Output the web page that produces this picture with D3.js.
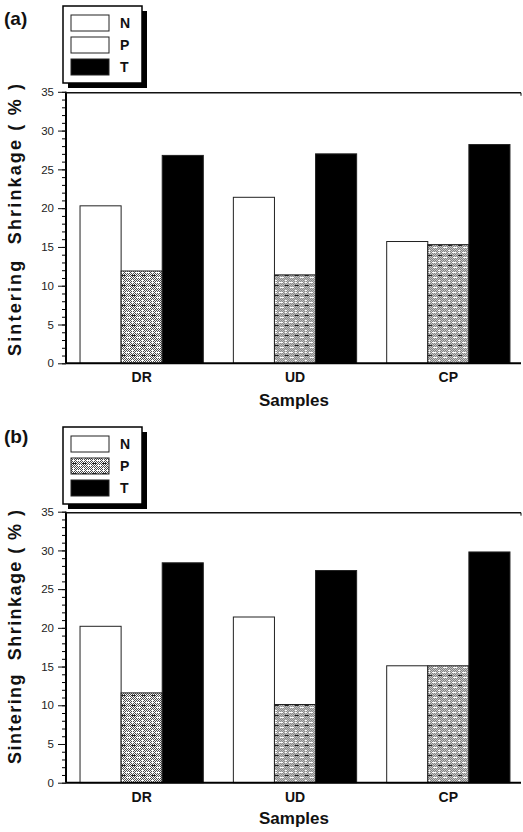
<!DOCTYPE html>
<html>
<head>
<meta charset="utf-8">
<script src="https://cdn.jsdelivr.net/npm/d3@7"></script>
<style>
  body { margin: 0; background: #fff; }
  svg { display: block; font-family: Arial, "Liberation Sans", sans-serif; }
</style>
</head>
<body>
<svg id="chart" width="523" height="832"></svg>
<script>
// data
const categories = ['DR', 'UD', 'CP']
const seriesNames = ['N', 'P', 'T']
const yTicks = [0, 5, 10, 15, 20, 25, 30, 35]

// panel (a)
const aN = [20.3, 21.4, 15.7]
const aP = [11.9, 11.4, 15.3]
const aT = [26.8, 27.0, 28.2]
// panel (b)
const bN = [20.2, 21.4, 15.1]
const bP = [11.6, 10.1, 15.1]
const bT = [28.4, 27.4, 29.8]

const svg = d3.select('#chart')

// speckled grey fill used for P
let defs = svg.append('defs')
let pat = defs.append('pattern')
  .attr('id', 'speckle')
  .attr('patternUnits', 'userSpaceOnUse')
  .attr('width', 10).attr('height', 10)
pat.append('rect').attr('width', 10).attr('height', 10).attr('fill', '#fff')
for (let i = 0; i < 10; i++) {
  for (let j = 0; j < 10; j++) {
    if ((i + j) % 2 === 0 && !(i === 2 && j < 4) && !(j === 7 && i > 5)) {
      pat.append('rect').attr('x', i).attr('y', j).attr('width', 1).attr('height', 1).attr('fill', '#4a4a4a')
    }
  }
}
pat.append('rect').attr('x', 1).attr('y', 5).attr('width', 4).attr('height', 1).attr('fill', '#222')
pat.append('rect').attr('x', 6).attr('y', 2).attr('width', 3).attr('height', 1).attr('fill', '#fff')

const fills = { N: '#fff', P: 'url(#speckle)', T: '#000' }

function drawPanel(opt) {
  let g = svg.append('g')
  let rows = categories.map((c, i) => ({ cat: c, N: opt.N[i], P: opt.P[i], T: opt.T[i] }))

  let x = d3.scaleBand().domain(categories).range([66, 524]).paddingInner(0.196).paddingOuter(0.0915)
  let xs = d3.scaleBand().domain(seriesNames).range([0, x.bandwidth()])
  let y = d3.scaleLinear().domain([0, 35]).range([opt.y0, opt.y35])

  // bars
  g.selectAll('g.grp')
    .data(rows)
    .enter()
    .append('g')
    .attr('transform', d => `translate(${x(d.cat)},0)`)
    .selectAll('rect')
    .data(d => seriesNames.map(s => ({ s: s, v: d[s] })))
    .enter()
    .append('rect')
    .attr('x', d => xs(d.s))
    .attr('y', d => y(d.v))
    .attr('width', xs.bandwidth())
    .attr('height', d => y(0) - y(d.v))
    .attr('fill', d => fills[d.s])
    .attr('stroke', '#222')
    .attr('stroke-width', 1)

  // minor ticks every 1 unit
  let yMinor = d3.axisLeft(y).tickValues(d3.range(0, 36, 1)).tickSize(4).tickFormat('')
  g.append('g').attr('transform', 'translate(66,0)').call(yMinor)
    .call(s => s.select('.domain').remove())
  let yAxis = d3.axisLeft(y).tickValues(yTicks).tickSize(8).tickPadding(4)
  let ya = g.append('g').attr('transform', 'translate(66,0)').call(yAxis)
  ya.select('.domain').attr('stroke-width', 2).attr('d', `M0,${opt.y0}V${opt.y35}`)
  ya.selectAll('text').attr('font-size', 11.5).attr('fill', '#222')
  ya.selectAll('line').attr('stroke', '#111')

  // x axis line and top line
  let xa = g.append('g').attr('transform', `translate(0,${opt.y0})`)
    .call(d3.axisBottom(x).tickSize(0).tickPadding(9))
  xa.select('.domain').attr('stroke-width', 2).attr('d', 'M66,0H521')
  xa.selectAll('text').attr('font-size', 14).attr('font-weight', 'bold').attr('fill', '#111')

  g.append('line').attr('x1', 66).attr('x2', 521).attr('y1', opt.y35 + 1).attr('y2', opt.y35 + 1)
    .attr('stroke', '#111').attr('stroke-width', 1.5)
  g.append('line').attr('x1', 521).attr('x2', 521).attr('y1', opt.y35 + 1).attr('y2', opt.y35 + 4)
    .attr('stroke', '#111').attr('stroke-width', 1)

  // titles
  g.append('text')
    .attr('transform', `translate(21,${opt.titleY}) rotate(-90)`)
    .attr('text-anchor', 'middle')
    .attr('font-size', 18).attr('font-weight', 'bold')
    .attr('fill', '#111')
    .attr('textLength', opt.titleLen)
    .attr('lengthAdjust', 'spacing')
    .style('white-space', 'pre')
    .text('Sintering  Shrinkage ( % )')

  g.append('text')
    .attr('x', 294).attr('y', opt.samplesY)
    .attr('text-anchor', 'middle')
    .attr('font-size', 17).attr('font-weight', 'bold')
    .attr('fill', '#111')
    .text('Samples')

  g.append('text')
    .attr('x', 4).attr('y', opt.labelY)
    .attr('font-size', 19).attr('font-weight', 'bold')
    .attr('fill', '#111')
    .text(opt.label)

  // legend box with drop shadow
  let lg = g.append('g').attr('transform', `translate(63,${opt.legY})`)
  lg.append('rect').attr('x', 5).attr('y', 5).attr('width', 79).attr('height', 77).attr('fill', '#000')
  lg.append('rect').attr('x', 0).attr('y', 0).attr('width', 79).attr('height', 77)
    .attr('fill', '#fff').attr('stroke', '#000').attr('stroke-width', 1.5)
  let items = lg.selectAll('g.item')
    .data(seriesNames)
    .enter()
    .append('g')
    .attr('transform', (d, i) => `translate(8,${9 + i * 22})`)
  items.append('rect')
    .attr('width', 38).attr('height', 16)
    .attr('fill', d => d === 'P' ? opt.legP : fills[d])
    .attr('stroke', '#222').attr('stroke-width', 1)
  items.append('text')
    .attr('x', 49).attr('y', 13)
    .attr('font-size', 14).attr('font-weight', 'bold')
    .attr('fill', '#111')
    .text(d => d)
}

drawPanel({ N: aN, P: aP, T: aT, y0: 363.3, y35: 91.8, titleY: 220, titleLen: 272, samplesY: 406, labelY: 25, label: '(a)', legY: 6, legP: '#fff' })
drawPanel({ N: bN, P: bP, T: bT, y0: 782.7, y35: 511.7, titleY: 637, titleLen: 254, samplesY: 824, labelY: 443, label: '(b)', legY: 427, legP: 'url(#speckle)' })
</script>
</body>
</html>
